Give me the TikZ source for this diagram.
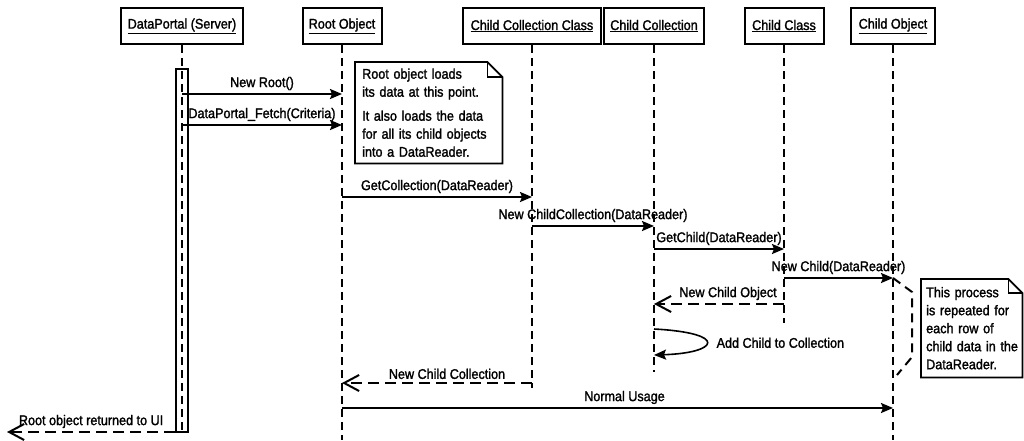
\documentclass[tikz,border=0pt]{standalone}
\usepackage{fontspec}
\setmainfont[FakeStretch=0.9, FakeBold=1.6]{Liberation Sans}
\usetikzlibrary{arrows.meta,calc}

\begin{document}
\begin{tikzpicture}[
			x=1pt, y=-1pt,
			font=\fontsize{14}{18}\selectfont,
			obj/.style={
				rectangle, draw=black, line width=2pt,
				minimum height=36pt, inner sep=0pt
			},
			note/.style={
				rectangle, anchor=north west, align=left,
				inner ysep=0pt
			},
			notebox/.style={draw=black, line width=1.8pt},
			actbox/.style={
				rectangle, draw=black, line width=1.6pt,
				minimum width=12pt, inner sep=0pt
			},
			life/.style={line width=2.2pt, dash pattern=on 8pt off 5pt},
			call/.style={-{Stealth[length=12pt,width=10pt,inset=2pt]}, line width=2pt},
			back/.style={-{Straight Barb[length=15pt,width=16pt]}, line width=2pt, dash pattern=on 11pt off 6pt},
			brk/.style={line width=2pt, dash pattern=on 9pt off 6pt},
			lbl/.style={above=2pt, inner sep=1pt}
			]
			\useasboundingbox (0,0) rectangle (1024,440);
			
			%% ── Objects ─────────────────────────────────────────────────────────
			\node[obj, minimum width=122pt] (dp)   at (182,26) {\underline{DataPortal (Server)}};
			\node[obj, minimum width=79pt]  (root) at (342,26) {\underline{Root Object}};
			\node[obj, minimum width=138pt] (ccc)  at (532,26) {\underline{Child Collection Class}};
			\node[obj, minimum width=100pt] (cc)   at (654,26) {\underline{Child Collection}};
			\node[obj, minimum width=79pt]  (ccls) at (784,26) {\underline{Child Class}};
			\node[obj, minimum width=84pt]  (cobj) at (893,26) {\underline{Child Object}};
			
			%% ── Lifelines ───────────────────────────────────────────────────────
			\coordinate (dpEnd)   at (182,433);
			\coordinate (rootEnd) at (342,440);
			\coordinate (cccEnd)  at (532,388);
			\coordinate (ccEnd)   at (654,372);
			\coordinate (cclsEnd) at (784,323);
			\coordinate (cobjEnd) at (893,440);
			
			\node[actbox, minimum height=363pt, anchor=south] (dpAct) at (dpEnd) {};
			
			\draw[life] (dp) -- (dpEnd);
			\draw[life] (root) -- (rootEnd);
			\draw[life] (ccc) -- (cccEnd);
			\draw[life] (cc) -- (ccEnd);
			\draw[life] (ccls) -- (cclsEnd);
			\draw[life] (cobj) -- (cobjEnd);
			
			%% ── Message rows ────────────────────────────────────────────────────
			\coordinate (yNewRoot)  at (0,94);
			\coordinate (yFetch)    at (0,125);
			\coordinate (yGetColl)  at (0,197);
			\coordinate (yNewColl)  at (0,226);
			\coordinate (yGetChild) at (0,249);
			\coordinate (yNewChild) at (0,278);
			\coordinate (yChildObj) at (0,304);
			\coordinate (yAddA)     at (0,329);
			\coordinate (yAddB)     at (0,355);
			\coordinate (yCollBack) at (0,383);
			\coordinate (yUsage)    at (0,408);
			\coordinate (ui)        at (7,432);
			
			%% ── Fetch from the server ───────────────────────────────────────────
			\draw[call] (dp |- yNewRoot) -- node[lbl] {New Root()} (root |- yNewRoot);
			\draw[call] (dp |- yFetch) -- node[lbl] {DataPortal\_Fetch(Criteria)} (root |- yFetch);
			
			\node[note, text width=133pt, inner xsep=7pt, minimum height=101pt] (rootNote) at (355,62) {
				Root object loads\\
				its data at this point.\\[6pt]
				It also loads the data\\
				for all its child objects\\
				into a DataReader.
			};
			\draw[notebox] (rootNote.north west) -- ($(rootNote.north east)+(-15,0)$)
				-- ($(rootNote.north east)+(0,15)$) -- (rootNote.south east)
				-- (rootNote.south west) -- cycle;
			\draw[notebox] ($(rootNote.north east)+(-15,0)$) -- ($(rootNote.north east)+(-15,15)$)
				-- ($(rootNote.north east)+(0,15)$);
			
			%% ── Child loading ───────────────────────────────────────────────────
			\draw[call] (root |- yGetColl) -- node[lbl] {GetCollection(DataReader)} (ccc |- yGetColl);
			\draw[call] (ccc |- yNewColl) -- node[lbl] {New ChildCollection(DataReader)} (cc |- yNewColl);
			\draw[call] (cc |- yGetChild) -- node[lbl] {GetChild(DataReader)} (ccls |- yGetChild);
			\draw[call] (ccls |- yNewChild) -- node[lbl] {New Child(DataReader)} (cobj |- yNewChild);
			\draw[back] (ccls |- yChildObj) -- node[lbl, xshift=9pt] {New Child Object} (cc |- yChildObj);
			\draw[call, line width=1.6pt] (cc |- yAddA) .. controls +(75,4) and +(65,-2) .. node[right=6pt] {Add Child to Collection} (cc |- yAddB);
			
			%% ── Repeat note ─────────────────────────────────────────────────────
			\node[note, text width=97pt, inner xsep=2pt, minimum height=98pt] (repNote) at (921,279) {
				\hspace*{3pt}This process\\
				\hspace*{3pt}is repeated for\\
				\hspace*{3pt}each row of\\
				\hspace*{3pt}child data in the\\
				\hspace*{3pt}DataReader.
			};
			\draw[notebox] (repNote.north west) -- ($(repNote.north east)+(-14,0)$)
				-- ($(repNote.north east)+(0,14)$) -- (repNote.south east)
				-- (repNote.south west) -- cycle;
			\draw[notebox] ($(repNote.north east)+(-14,0)$) -- ($(repNote.north east)+(-14,14)$)
				-- ($(repNote.north east)+(0,14)$);
			\draw[brk] (cobj |- yNewChild) -- ++(19,14) -- ++(0,65) -- ++(-15,18);
			
			%% ── Back to the root and the UI ─────────────────────────────────────
			\draw[back] (ccc |- yCollBack) -- node[lbl, xshift=10pt] {New Child Collection} (root |- yCollBack);
			\draw[call] (root |- yUsage) -- node[lbl, xshift=7pt] {Normal Usage} (cobj |- yUsage);
			\draw[back] (dpAct.west |- ui) -- node[lbl] {Root object returned to UI} (ui);
			
\end{tikzpicture}
\end{document}
